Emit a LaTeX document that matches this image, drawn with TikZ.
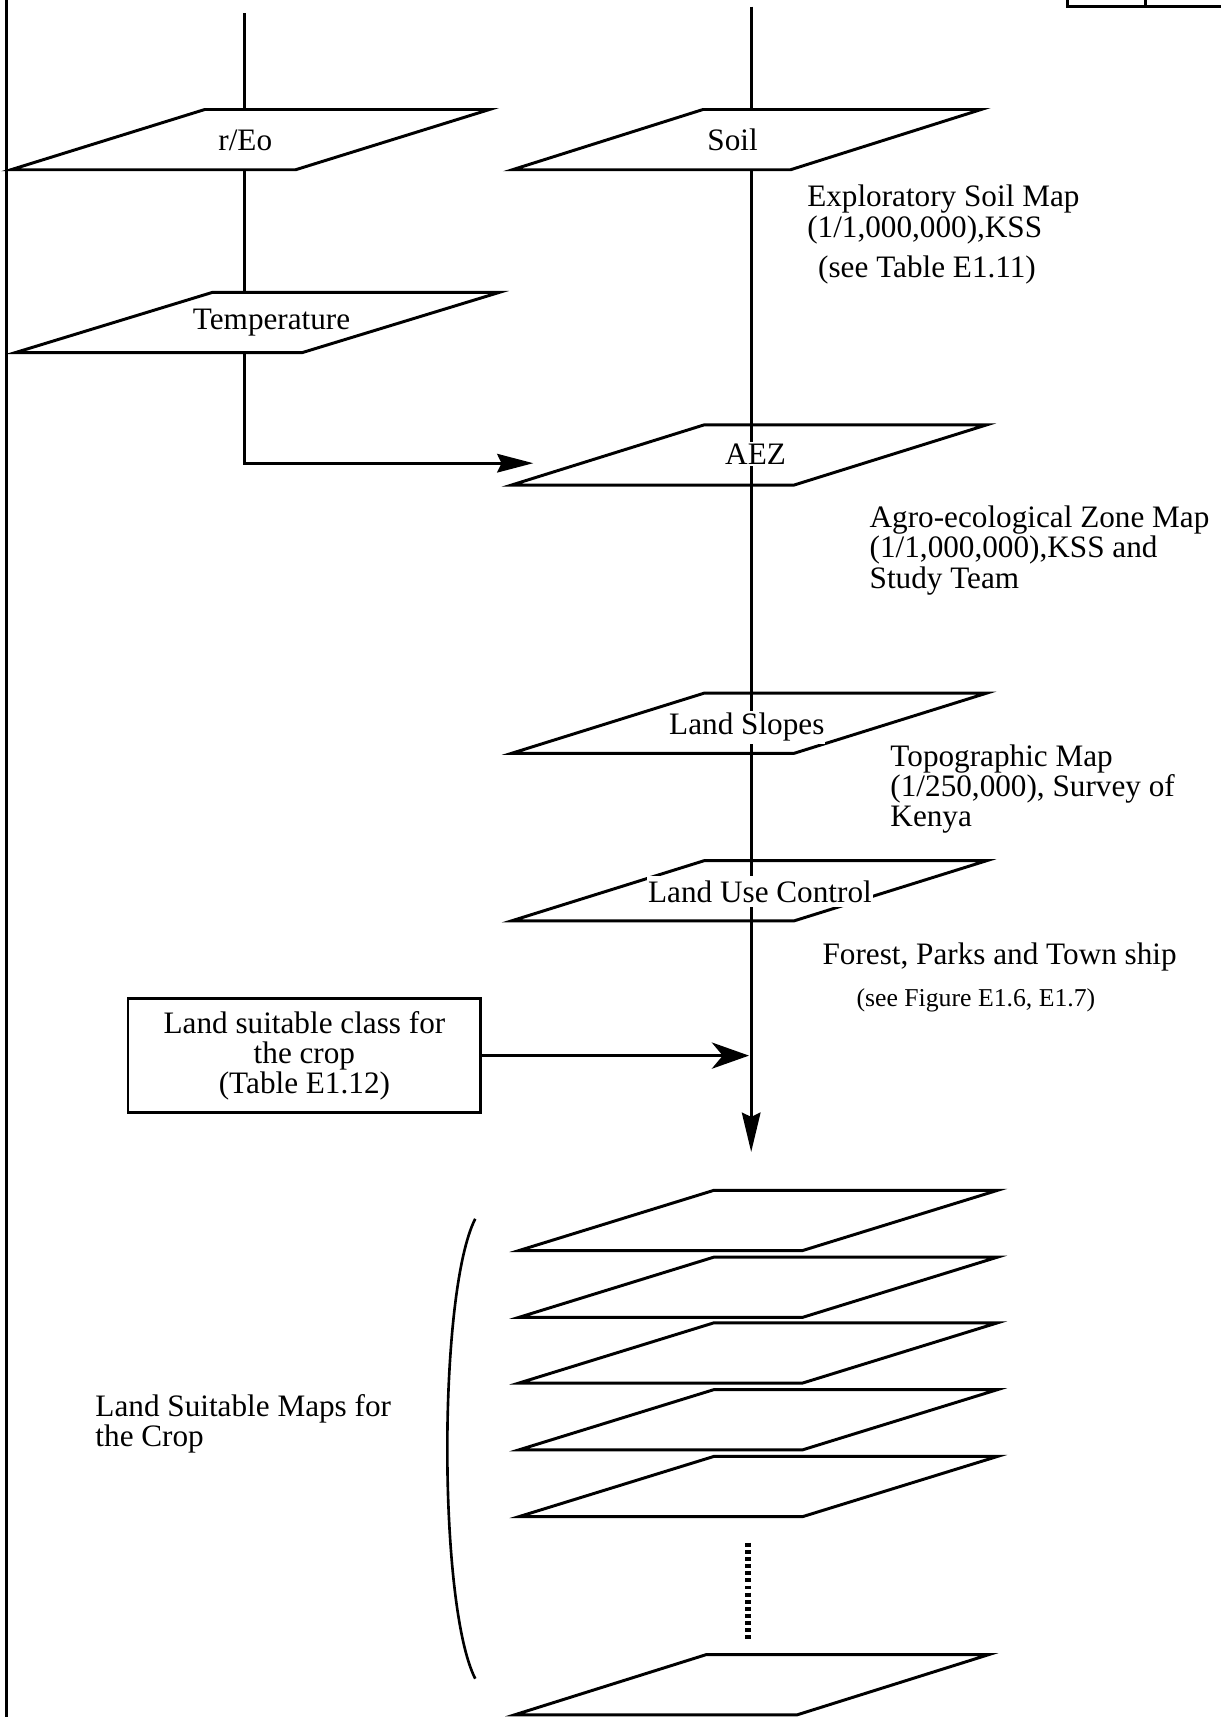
\documentclass[tikz,border=0pt]{standalone}
\usepackage{fontspec}
\setmainfont{Liberation Serif}
\usetikzlibrary{arrows.meta,calc}
\tikzset{
  lne/.style={line width=2.4pt},
  pshape/.style={line width=2.7pt, line join=miter},
  bigfont/.style={font=\fontsize{28.5}{27.5}\selectfont},
  plabel/.style={bigfont, inner sep=0pt, anchor=base},
  pwlabel/.style={bigfont, fill=white, inner xsep=1pt, inner ysep=2pt, anchor=base},
  note/.style={bigfont, align=left, inner sep=0pt, anchor=north west},
  noteline/.style={bigfont, inner sep=0pt, anchor=base west},
  smallnote/.style={font=\fontsize{23.5}{24}\selectfont, inner sep=0pt, anchor=base west},
  boxnode/.style={bigfont, draw, line width=2.4pt, align=center, minimum width=322pt, minimum height=104pt, inner sep=0pt},
}
\newcommand\pgram[6][]{%
  \draw[pshape,#1] (#3,#4+55) coordinate (#2-bl) -- ++(#5,0) coordinate (#2-br)
     -- ++(#6,-55) coordinate (#2-tr) -- ++(-#5,0) coordinate (#2-tl) -- cycle;
}
\begin{document}
\begin{tikzpicture}[x=1pt,y=-1pt]
\useasboundingbox (0,0) rectangle (1115,1568);
% frame fragments
\draw[line width=3pt] (6,0) coordinate (frT) -- (6,1568) coordinate (frB);
\draw[lne] (975,0) coordinate (cbA) -- (975,6) -- (1115,6) coordinate (cbB);
\draw[lne] (1046,0) coordinate (cbC) -- (1046,6) coordinate (cbD);

% connectors
\coordinate (rEoTop) at (223,12);
\coordinate (tBend) at (223,423);
\coordinate (aezIn) at (487,423);
\draw[lne,-{Stealth[length=33pt,width=17pt,inset=4pt]}] (rEoTop) -- (tBend) -- (aezIn);
\coordinate (mainTop) at (686,6);
\coordinate (mainEnd) at (686,1052);
\draw[lne,-{Stealth[length=36pt,width=17pt,inset=4pt]}] (mainTop) -- (mainEnd);

% parallelograms
\pgram[fill=white]{rEo}{10}{100}{260}{177}
\pgram[fill=white]{soil}{468}{100}{254}{174}
\pgram[fill=white]{temp}{14}{267}{262}{180}
\pgram{aez}{467}{388}{258}{176}
\pgram{slope}{467}{633}{258}{176}
\pgram{luc}{467}{786}{258}{176}
\foreach \t [count=\i] in {1087,1148,1208,1269,1330}{\pgram{stack\i}{474}{\t}{259}{178}}
\pgram{stackN}{470}{1511}{258}{175}

% labels in parallelograms
\node[plabel] (rEoL) at (224,137) {r/Eo};
\node[plabel] (soilL) at (669,137) {Soil};
\node[plabel] (tempL) at (248,301) {Temperature};
\node[pwlabel] (aezL) at (690,424) {AEZ};
\node[pwlabel] (slopeL) at (682,671) {Land Slopes};
\node[pwlabel, inner ysep=4pt] (lucL) at (694,824) {Land Use Control};

% side notes
\node[note] (n1) at (737,169) {Exploratory Soil Map\\(1/1,000,000),KSS};
\node[noteline] (n2) at (747,253) {(see Table E1.11)};
\node[note] (n3) at (794,462) {Agro-ecological Zone Map\\(1/1,000,000),KSS and\\Study Team};
\node[note] (n4) at (813,680) {Topographic Map\\(1/250,000), Survey of\\Kenya};
\node[noteline] (n5) at (751,881) {Forest, Parks and Town ship};
\node[smallnote] (n6) at (782,919) {(see Figure E1.6, E1.7)};
\node[note] (n7) at (87,1273) {Land Suitable Maps for\\the Crop};

% box and its arrow
\node[boxnode] (suit) at (278,964) {Land suitable class for\\the crop\\(Table E1.12)};
\draw[lne,shorten >=2pt,-{Stealth[length=34pt,width=24pt,inset=10pt]}] (suit.east) -- (suit.east -| mainEnd);

% bracket and dots
\draw[lne] (434,1113) coordinate (brT) .. controls (400,1180) and (400,1466) .. (434,1533) coordinate (brB);
\draw[line width=5pt, dash pattern=on 3.5pt off 3pt] (683,1409) coordinate (dT) -- (683,1500) coordinate (dB);
\end{tikzpicture}
\end{document}
